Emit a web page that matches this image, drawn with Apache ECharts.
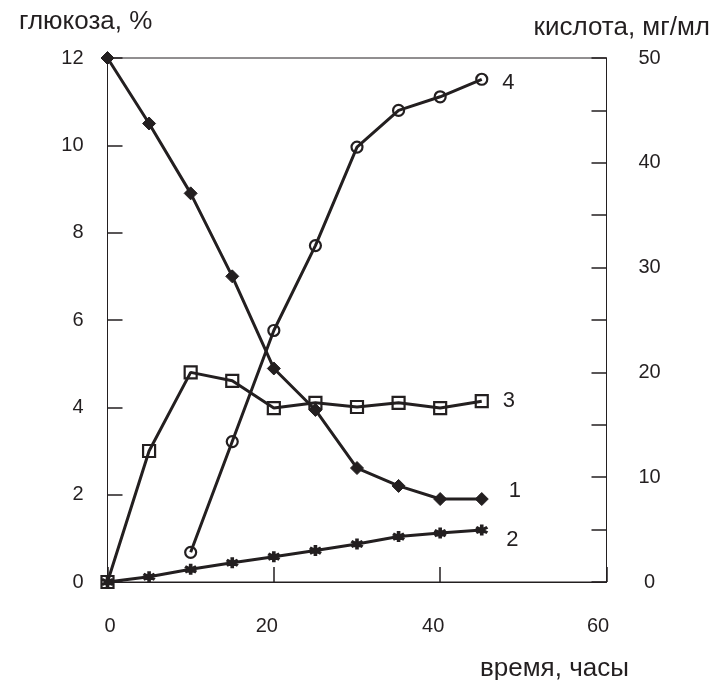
<!DOCTYPE html>
<html>
<head>
<meta charset="utf-8">
<script src="https://cdn.jsdelivr.net/npm/echarts@6/dist/echarts.min.js"></script>
<style>
html,body{margin:0;padding:0;background:#fff;}
#chart{width:715px;height:680px;}
</style>
</head>
<body>
<div id="chart"></div>
<script>
// ---- data ----
const hours = [0, 5, 10, 15, 20, 25, 30, 35, 40, 45];
const glucose = [12, 10.5, 8.9, 7.0, 4.89, 3.94, 2.61, 2.2, 1.9, 1.9];        // 1, left axis (%)
const curve2 = [0, 0.12, 0.29, 0.44, 0.58, 0.72, 0.87, 1.04, 1.12, 1.19];      // 2, left axis
const curve3 = [0, 12.5, 20.0, 19.2, 16.6, 17.1, 16.7, 17.1, 16.6, 17.25];     // 3, right axis (mg/ml)
const hours4 = [10, 15, 20, 25, 30, 35, 40, 45];
const acid4 = [2.83, 13.4, 24.0, 32.1, 41.5, 45.0, 46.3, 47.97];              // 4, right axis
const seriesNames = ['1', '2', '3', '4'];
const xRange = [0, 60, 20];
const leftRange = [0, 12, 2];
const rightRange = [0, 50, 5];
const titles = { left: 'глюкоза, %', right: 'кислота, мг/мл', x: 'время, часы' };

const INK = '#231f20';
const FONT = "'Liberation Sans', Arial, sans-serif";
const asterisk = 'path://M-2.8,-10 L2.8,-10 L2.8,10 L-2.8,10 Z M-10.06,-2.58 L-7.26,-7.42 L10.06,2.58 L7.26,7.42 Z M7.26,-7.42 L10.06,-2.58 L-7.26,7.42 L-10.06,2.58 Z M-6,0 L6,0 L6,6 L-6,6 Z';

function build(xs, ys, name, labelOpt) {
  return xs.map((x, i) => {
    const item = { value: [x, ys[i]] };
    if (i === xs.length - 1) {
      item.label = Object.assign({
        show: true, position: 'right', formatter: name,
        fontSize: 22, fontFamily: FONT, color: INK
      }, labelOpt);
    }
    return item;
  });
}

const chart = echarts.init(document.getElementById('chart'), null, { renderer: 'canvas' });
const axisLineStyle = { color: INK, width: 1 };
const tickStyle = { color: INK, width: 1.5 };
chart.setOption({
  animation: false,
  backgroundColor: '#fff',
  grid: { left: 107.5, right: 108.5, top: 58, bottom: 98, show: true, borderColor: INK, borderWidth: 1, backgroundColor: 'transparent' },
  xAxis: {
    type: 'value', min: xRange[0], max: xRange[1], interval: xRange[2],
    axisLine: { show: true, lineStyle: axisLineStyle },
    axisTick: { show: true, inside: true, length: 15, lineStyle: tickStyle },
    splitLine: { show: false },
    axisLabel: {
      margin: 34, fontSize: 20, fontFamily: FONT, color: INK,
      formatter: v => v === 0 ? '{a|' + v + '}' : (v === 60 ? '{c|' + v + '}' : '{b|' + v + '}'),
      rich: {
        a: { fontSize: 20, fontFamily: FONT, color: INK, padding: [0, 0, 0, 5] },
        b: { fontSize: 20, fontFamily: FONT, color: INK, padding: [0, 14, 0, 0] },
        c: { fontSize: 20, fontFamily: FONT, color: INK, padding: [0, 17, 0, 0] }
      }
    }
  },
  yAxis: [{
    type: 'value', position: 'left', min: leftRange[0], max: leftRange[1], interval: leftRange[2],
    axisLine: { show: true, lineStyle: axisLineStyle },
    axisTick: { show: true, inside: true, length: 15, lineStyle: tickStyle },
    splitLine: { show: false },
    axisLabel: { margin: 24, fontSize: 20, fontFamily: FONT, color: INK }
  }, {
    type: 'value', position: 'right', min: rightRange[0], max: rightRange[1], interval: rightRange[2],
    axisLine: { show: true, lineStyle: axisLineStyle },
    axisTick: { show: true, inside: true, length: 15, lineStyle: tickStyle },
    splitLine: { show: false },
    axisLabel: { margin: 43, align: 'center', fontSize: 20, fontFamily: FONT, color: INK,
      formatter: v => (v % 10 === 0 ? String(v) : '') }
  }],
  series: [{
    type: 'line', name: seriesNames[0], yAxisIndex: 0,
    data: build(hours, glucose, seriesNames[0], { distance: 20, offset: [0, -8] }),
    symbol: 'diamond', symbolSize: 13,
    lineStyle: { color: INK, width: 3 },
    itemStyle: { color: INK, borderColor: INK, borderWidth: 1 }
  }, {
    type: 'line', name: seriesNames[1], yAxisIndex: 0,
    data: build(hours, curve2, seriesNames[1], { distance: 18, offset: [0, 10] }),
    symbol: asterisk, symbolSize: [13, 11],
    lineStyle: { color: INK, width: 3 },
    itemStyle: { color: INK }
  }, {
    type: 'line', name: seriesNames[2], yAxisIndex: 1,
    data: build(hours, curve3, seriesNames[2], { distance: 14, offset: [0, 0] }),
    symbol: 'rect', symbolSize: 12,
    lineStyle: { color: INK, width: 3 },
    itemStyle: { color: 'rgba(255,255,255,0)', borderColor: INK, borderWidth: 2.2 }
  }, {
    type: 'line', name: seriesNames[3], yAxisIndex: 1,
    data: build(hours4, acid4, seriesNames[3], { distance: 14, offset: [0, 4] }),
    symbol: 'circle', symbolSize: 11,
    lineStyle: { color: INK, width: 3 },
    itemStyle: { color: 'rgba(255,255,255,0)', borderColor: INK, borderWidth: 2.2 }
  }],
  graphic: [
    { type: 'text', left: 19, top: 9, style: { text: titles.left, fontSize: 26, fontFamily: FONT, fill: INK } },
    { type: 'text', right: 5, top: 15, style: { text: titles.right, fontSize: 26, fontFamily: FONT, fill: INK } },
    { type: 'text', left: 480, top: 656, style: { text: titles.x, fontSize: 26, fontFamily: FONT, fill: INK } }
  ]
});
</script>
</body>
</html>
